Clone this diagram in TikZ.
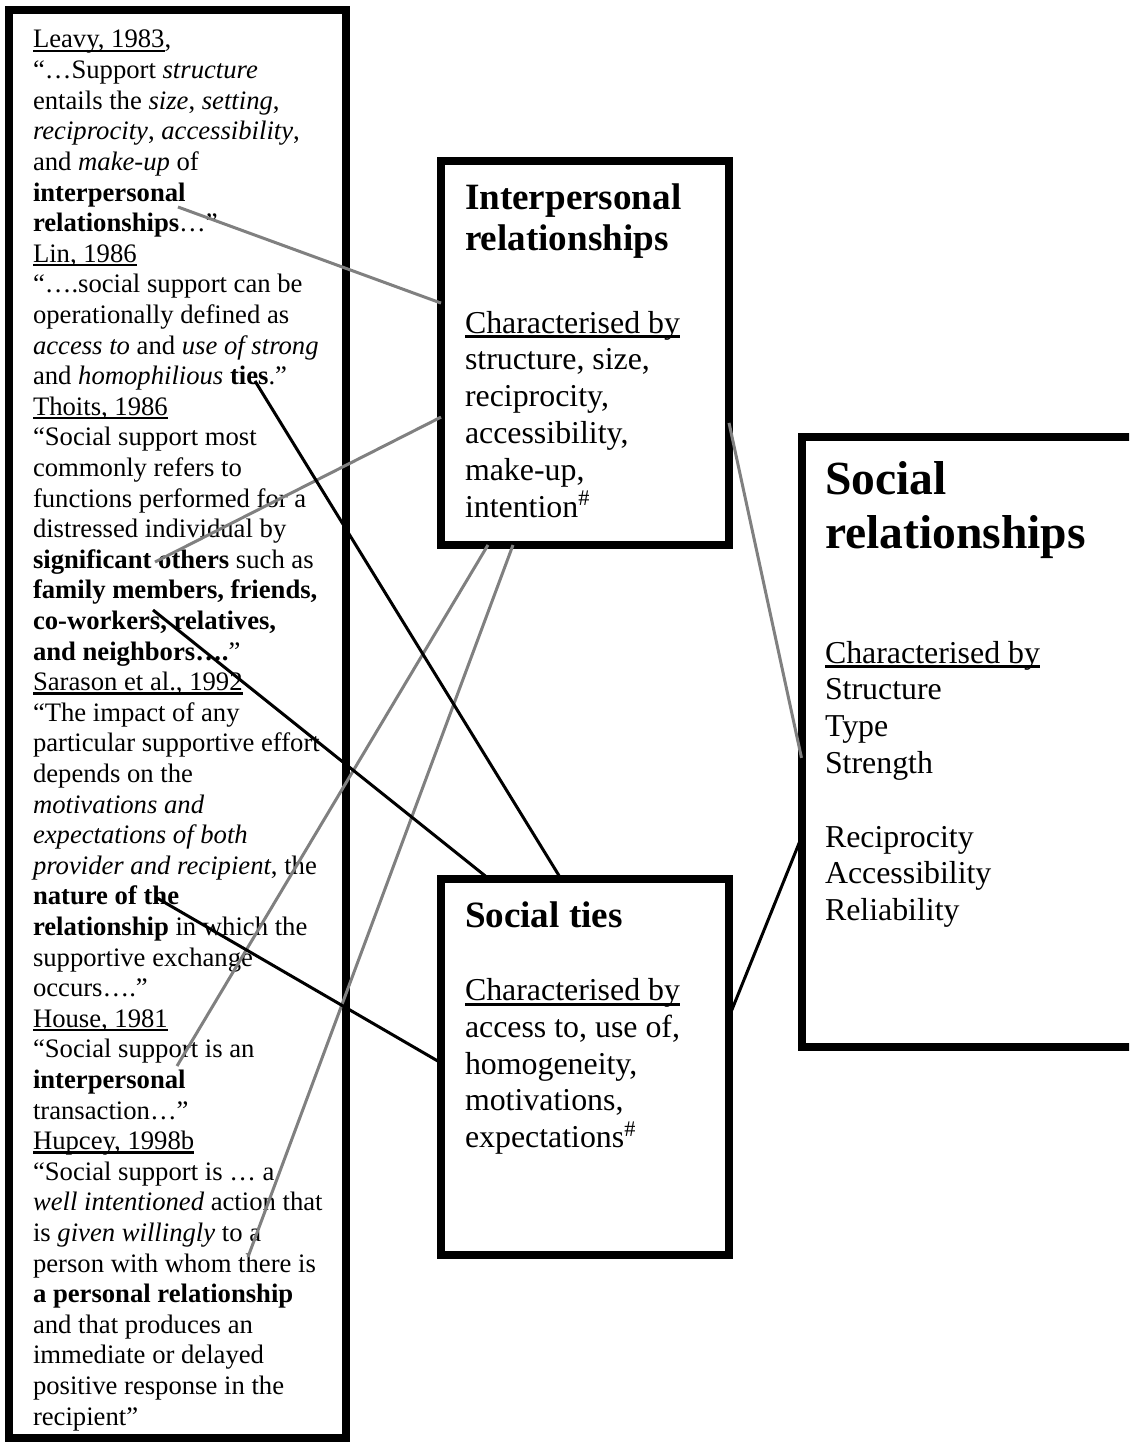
\documentclass[tikz,border=0pt]{standalone}
\usepackage{fontspec}
\setmainfont{Liberation Serif}
\usetikzlibrary{calc}

\definecolor{linkgray}{RGB}{128,128,128}

% underline drawn just below the baseline, as a word processor does
\newcommand\undl[1]{\setbox0\hbox{#1}\rlap{\vrule width\wd0 height -0.07em depth 0.16em}\box0}

\newcommand\quotefont{\fontsize{12pt}{13.8pt}\selectfont}
\newcommand\bodyfont{\fontsize{14.34pt}{16.5pt}\selectfont}
\newcommand\headfont{\fontsize{16.7pt}{18.5pt}\selectfont\bfseries}
\newcommand\bigheadfont{\fontsize{21.4pt}{24.3pt}\selectfont\bfseries}

\begin{document}
\begin{tikzpicture}[
  x=0.45pt, y=-0.45pt,
  frame/.style={draw=black, line width=3.6pt, rectangle, inner sep=0pt, outer sep=0pt},
  lineof/.style={anchor=base west, inner sep=0pt, outer sep=0pt},
  srcline/.style={lineof, font=\quotefont},
  bodyline/.style={lineof, font=\bodyfont},
  headline/.style={lineof, font=\headfont},
  bigline/.style={lineof, font=\bigheadfont},
  greylink/.style={draw=linkgray, line width=1.35pt},
  blacklink/.style={draw=black, line width=1.35pt}
]
\useasboundingbox (0,0) rectangle (1129,1443);
\clip (0,0) rectangle (1129,1443);

% ---- frames ----
\node[frame, minimum width=151.43pt, minimum height=642.38pt] (src) at (177.25,723.75) {};
\node[frame, minimum width=129.6pt, minimum height=172.8pt] (ir) at (585,353) {};
\node[frame, minimum width=129.6pt, minimum height=169.2pt] (st) at (585,1067) {};
\node[frame, minimum width=165.83pt, minimum height=274.5pt] (sr) at (985.75,742) {};

% ---- quotations from the literature ----
\foreach \t [count=\i] in {
  {\undl{Leavy, 1983},},
  {“…Support \textit{structure}},
  {entails the \textit{size}, \textit{setting},},
  {\textit{reciprocity}, \textit{accessibility},},
  {and \textit{make-up} of},
  {\textbf{interpersonal}},
  {\textbf{relationships}…”},
  {\undl{Lin, 1986}},
  {“….social support can be},
  {operationally defined as},
  {\textit{access to} and \textit{use of strong}},
  {and \textit{homophilious} \textbf{ties}.”},
  {\undl{Thoits, 1986}},
  {“Social support most},
  {commonly refers to},
  {functions performed for a},
  {distressed individual by},
  {\textbf{significant others} such as},
  {\textbf{family members, friends,}},
  {\textbf{co-workers, relatives,}},
  {\textbf{and neighbors….}”},
  {\undl{Sarason et al., 1992}},
  {“The impact of any},
  {particular supportive effort},
  {depends on the},
  {\textit{motivations and}},
  {\textit{expectations of both}},
  {\textit{provider and recipient}, the},
  {\textbf{nature of the}},
  {\textbf{relationship} in which the},
  {supportive exchange},
  {occurs….”},
  {\undl{House, 1981}},
  {“Social support is an},
  {\textbf{interpersonal}},
  {transaction…”},
  {\undl{Hupcey, 1998b}},
  {“Social support is … a},
  {\textit{well intentioned} action that},
  {is \textit{given willingly} to a},
  {person with whom there is},
  {\textbf{a personal relationship}},
  {and that produces an},
  {immediate or delayed},
  {positive response in the},
  {recipient”}
}
  \node[srcline] (q\i) at (33,{48+30.6*(\i-1)}) {\t};

% ---- Interpersonal relationships ----
\node[headline] (irh1) at (465,209) {Interpersonal};
\node[headline] (irh2) at (465,250) {relationships};
\node[bodyline] (irb1) at (465,333) {\undl{Characterised by}};
\node[bodyline] (irb2) at (465,369.8) {structure, size,};
\node[bodyline] (irb3) at (465,406.6) {reciprocity,};
\node[bodyline] (irb4) at (465,443.4) {accessibility,};
\node[bodyline] (irb5) at (465,480.2) {make-up,};
\node[bodyline] (irb6) at (465,517) {intention\textsuperscript{\#}};

% ---- Social ties ----
\node[headline] (sth1) at (465,927) {Social ties};
\node[bodyline] (stb1) at (465,1000.5) {\undl{Characterised by}};
\node[bodyline] (stb2) at (465,1037.3) {access to, use of,};
\node[bodyline] (stb3) at (465,1074.1) {homogeneity,};
\node[bodyline] (stb4) at (465,1110.9) {motivations,};
\node[bodyline] (stb5) at (465,1147.7) {expectations\textsuperscript{\#}};

% ---- Social relationships ----
\node[bigline] (srh1) at (825,494) {Social};
\node[bigline] (srh2) at (825,548) {relationships};
\node[bodyline] (srb1) at (825,663) {\undl{Characterised by}};
\node[bodyline] (srb2) at (825,699.8) {Structure};
\node[bodyline] (srb3) at (825,736.6) {Type};
\node[bodyline] (srb4) at (825,773.4) {Strength};
\node[bodyline] (srb5) at (825,847) {Reciprocity};
\node[bodyline] (srb6) at (825,883.8) {Accessibility};
\node[bodyline] (srb7) at (825,920.6) {Reliability};

% ---- link ends inside the quotations ----
\coordinate (kInterp)  at (178,207);
\coordinate (kSignif)  at (155,562);
\coordinate (kHouse)   at (177,1066);
\coordinate (kHupcey)  at (248,1257);
\coordinate (kTies)    at (255,381);
\coordinate (kFamily)  at (153,610);
\coordinate (kNature)  at (157,898);

% ---- grey links ----
\draw[greylink] (kInterp) -- ($(ir.north west)!0.37!(ir.south west)$);
\draw[greylink] (kSignif) -- ($(ir.north west)!0.667!(ir.south west)$);
\draw[greylink] (kHouse)  -- ($(ir.south west)!0.163!(ir.south east)$);
\draw[greylink] (kHupcey) -- ($(ir.south west)!0.25!(ir.south east)$);
\draw[greylink] ($(ir.north east)!0.682!(ir.south east)$) -- ($(sr.north west)!0.526!(sr.south west)$);

% ---- black links ----
\draw[blacklink] (kTies)   -- ($(st.north west)!0.417!(st.north east)$);
\draw[blacklink] (kFamily) -- ($(st.north west)!0.167!(st.north east)$);
\draw[blacklink] (kNature) -- ($(st.north west)!0.489!(st.south west)$);
\draw[blacklink] ($(st.north east)!0.367!(st.south east)$) -- ($(sr.north west)!0.656!(sr.south west)$);
\end{tikzpicture}
\end{document}
